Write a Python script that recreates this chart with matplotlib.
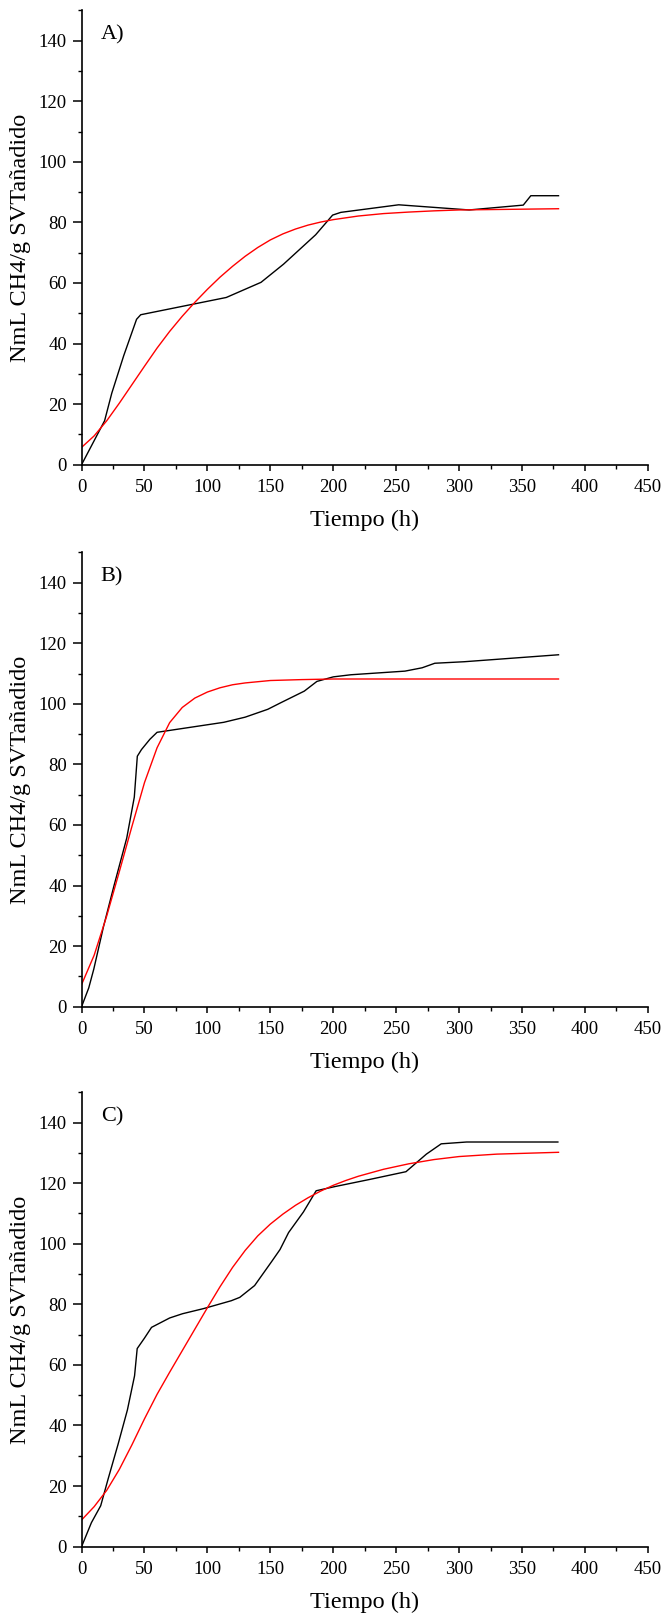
import matplotlib
matplotlib.use("Agg")
import matplotlib.pyplot as plt
from matplotlib.ticker import MultipleLocator

plt.rcParams['font.family'] = ['Liberation Serif', 'DejaVu Serif']

# A) experimental and fitted
a_t = [0, 18.3, 24, 33.5, 43.7, 47, 115, 142.6, 160.5, 186, 199.5, 206, 252, 308, 351, 357, 379]
a_y = [0, 14.5, 23.6, 36, 48, 49.5, 55.2, 60.2, 66.2, 75.9, 82.4, 83.3, 85.8, 84.1, 85.7, 88.8, 88.8]
a_fit_t = [0, 10, 20, 30, 40, 50, 60, 70, 80, 90, 100, 110, 120, 130, 140, 150, 160, 170, 180, 190,
           200, 220, 240, 260, 280, 300, 340, 379]
a_fit_y = [5.7, 9.5, 14.5, 20.3, 26.4, 32.5, 38.5, 44, 49, 53.6, 57.9, 61.9, 65.5, 68.8, 71.7, 74.2,
           76.2, 77.8, 79.1, 80.1, 80.9, 82.1, 82.9, 83.4, 83.8, 84.1, 84.3, 84.5]

# B)
b_t = [0, 5.7, 9.7, 17.4, 25.8, 35.9, 41.9, 44.3, 47.6, 54.3, 60, 76, 113, 130, 148, 158, 177, 187,
       200, 214, 257, 270.6, 280.7, 304, 379]
b_y = [0, 6.2, 12.4, 26.4, 40, 55.7, 69.2, 82.7, 84.9, 88.3, 90.6, 91.6, 93.9, 95.6, 98.2, 100.3,
       104.2, 107.4, 108.9, 109.6, 110.8, 111.9, 113.4, 113.9, 116.2]
b_fit_t = [0, 10, 20, 30, 40, 50, 60, 70, 80, 90, 100, 110, 120, 130, 150, 175, 200, 379]
b_fit_y = [7.3, 17, 30, 44.6, 59.5, 74, 85.5, 93.8, 98.8, 101.9, 103.9, 105.3, 106.3, 106.9, 107.7,
           108.0, 108.2, 108.2]

# C)
c_t = [0, 7.8, 15.2, 21.2, 29, 36.4, 42.1, 44.2, 49.9, 55.6, 70, 80.2, 97, 119, 125.7, 137.5, 151,
       157.7, 164.5, 176.3, 186.4, 201.5, 228.5, 257.8, 274, 285.8, 306, 378.5]
c_y = [0, 7.9, 13.5, 22.5, 33.8, 45.1, 56.4, 65.4, 68.8, 72.4, 75.5, 76.9, 78.6, 81.2, 82.3, 86.2,
       94.1, 98.1, 103.7, 110.5, 117.5, 118.9, 121.2, 123.8, 129.6, 133, 133.6, 133.6]
c_fit_t = [0, 10, 20, 30, 40, 50, 60, 70, 80, 90, 100, 110, 120, 130, 140, 150, 160, 170, 180, 190,
           200, 210, 220, 240, 260, 280, 300, 330, 379]
c_fit_y = [8.8, 13.2, 18.6, 25.5, 33.6, 42.2, 50.3, 57.6, 64.7, 71.8, 78.9, 85.8, 92.2, 97.8, 102.6,
           106.5, 109.8, 112.7, 115.2, 117.4, 119.3, 120.9, 122.3, 124.6, 126.4, 127.8, 128.8, 129.6,
           130.2]

panels = [("A)", a_t, a_y, a_fit_t, a_fit_y),
          ("B)", b_t, b_y, b_fit_t, b_fit_y),
          ("C)", c_t, c_y, c_fit_t, c_fit_y)]
bottoms = [0.7130, 0.3782, 0.0447]

fig = plt.figure(figsize=(6.67, 16.19), dpi=100)

for (tag, t, y, ft, fy), b in zip(panels, bottoms):
    ax = fig.add_axes([0.1223, b, 0.849, 0.2806])
    ax.plot(t, y, color="black", lw=1.0)
    ax.plot(ft, fy, color="red", lw=1.0)
    ax.set_xlim(0, 450)
    ax.set_ylim(0, 150)
    ax.xaxis.set_major_locator(MultipleLocator(50))
    ax.xaxis.set_minor_locator(MultipleLocator(25))
    ax.yaxis.set_major_locator(MultipleLocator(20))
    ax.yaxis.set_minor_locator(MultipleLocator(10))
    ax.spines["top"].set_visible(False)
    ax.spines["right"].set_visible(False)
    ax.spines["left"].set_linewidth(1.2)
    ax.spines["bottom"].set_linewidth(1.2)
    ax.tick_params(axis="y", which="major", direction="out", length=6.5, width=1.1, labelsize=13.5, pad=4)
    ax.tick_params(axis="x", which="major", direction="out", length=4.5, width=1.1, labelsize=13.5, pad=6)
    ax.tick_params(which="minor", direction="out", length=3, width=1.0)
    ax.set_xlabel("Tiempo (h)", fontsize=17.5, labelpad=10)
    ax.set_ylabel("NmL CH4/g SVTañadido", fontsize=17.5, labelpad=6)
    ax.text(0.034, 0.946, tag, transform=ax.transAxes, fontsize=16, va="center", ha="left")

fig.savefig("out.png", dpi=100)
